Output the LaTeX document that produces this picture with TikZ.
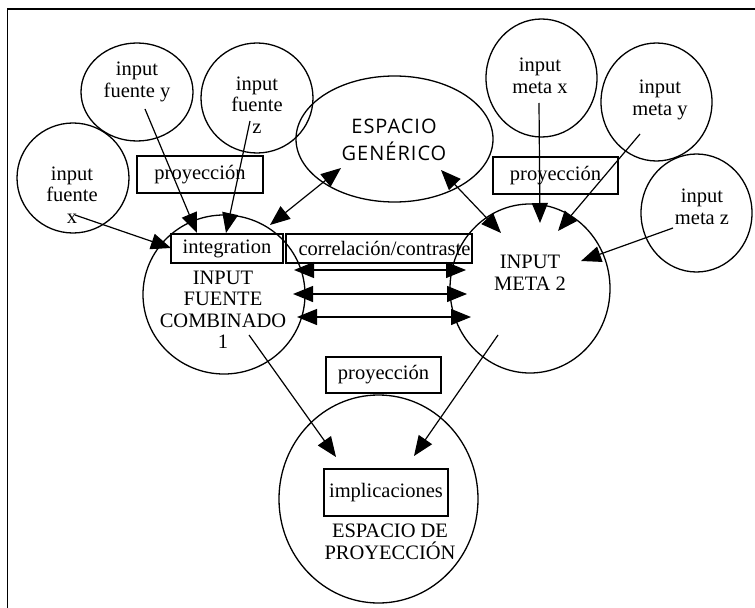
\documentclass[tikz,border=0pt]{standalone}
\usepackage{fontspec}
\setmainfont{Liberation Serif}
\newfontfamily\gensans[LetterSpace=5]{Open Sans}
\usetikzlibrary{arrows.meta,shapes.geometric}
\tikzset{
  circ/.style={draw, ellipse, line width=1.3bp, inner sep=0pt},
  lbl/.style={align=center, inner sep=0pt, font=\fontsize{20.5bp}{21.5bp}\selectfont},
  boxn/.style={draw, rectangle, line width=1.3bp, inner sep=0pt, font=\fontsize{20.5bp}{21.5bp}\selectfont},
  tipa/.style={-{Triangle[length=20bp,width=16bp]}, line width=1.2bp},
  dtipa/.style={{Triangle[length=20bp,width=16bp]}-{Triangle[length=20bp,width=16bp]}, line width=1.2bp}
}
\begin{document}
\begin{tikzpicture}[x=1bp,y=-1bp]
\useasboundingbox (0,0) rectangle (755,608);
\draw[line width=1.5bp] (7.5,608) -- (7.5,9) -- (755,9);

% circles / ellipses
\node[circ, minimum width=112bp, minimum height=98bp] (fy) at (137,92) {};
\node[circ, minimum width=112bp, minimum height=110bp] (fz) at (257,98) {};
\node[circ, minimum width=112bp, minimum height=110bp] (fx) at (73,178) {};
\node[circ, minimum width=197bp, minimum height=126bp] (gen) at (394.5,139) {};
\node[circ, minimum width=111bp, minimum height=118bp] (mx) at (541.5,78) {};
\node[circ, minimum width=111bp, minimum height=118bp] (my) at (656.5,102) {};
\node[circ, minimum width=111bp, minimum height=118bp] (mz) at (696.5,213) {};
\node[circ, minimum width=162bp, minimum height=159bp] (f1) at (224,294.5) {};
\node[circ, minimum width=160bp, minimum height=169bp] (m2) at (530,288.5) {};
\node[circ, minimum width=199bp, minimum height=208bp] (proy) at (378.5,499) {};

% texts
\node[lbl] (tfy) at (137,82) {input\\fuente y};
\node[lbl] (tfz) at (257,105) {input\\fuente\\z};
\node[lbl] (tfx) at (72,195) {input\\fuente\\x};
\node[lbl, font=\gensans\fontsize{20bp}{27bp}\selectfont] (tgen) at (394,140) {ESPACIO\\GENÉRICO};
\node[lbl] (tmx) at (540,76) {input\\meta x};
\node[lbl] (tmy) at (660,100) {input\\meta y};
\node[lbl] (tmz) at (702,207) {input\\meta z};
\node[lbl] (tm2) at (530,273) {INPUT\\META 2};
\node[lbl] (tf1) at (223,310) {INPUT\\FUENTE\\COMBINADO\\1};
\node[lbl] (tproy) at (390,542) {ESPACIO DE\\PROYECCIÓN};

% boxes
\node[boxn, minimum width=126bp, minimum height=37bp] (p1) at (200,174.5) {proyección};
\node[boxn, minimum width=125bp, minimum height=37bp] (p2) at (555.5,175.5) {proyección};
\node[boxn, minimum width=115bp, minimum height=36bp] (p3) at (383.5,375) {proyección};
\node[boxn, minimum width=112bp, minimum height=29bp] (int) at (227,248.5) {integration};
\node[boxn, minimum width=186bp, minimum height=29bp] (cor) at (379,248.5) {};
\node[lbl] (tcor) at (384.5,248) {correlación/contraste};
\node[boxn, minimum width=124bp, minimum height=47bp] (imp) at (386,492.5) {implicaciones};

% connector end points
\coordinate (fyS) at (145,109);  \coordinate (fyE) at (197,233);
\coordinate (fzS) at (250,121);  \coordinate (fzE) at (226,233);
\coordinate (fxS) at (75,215);   \coordinate (fxE) at (171,248);
\coordinate (g1A) at (270,225);  \coordinate (g1B) at (341,168);
\coordinate (g2A) at (441,170);  \coordinate (g2B) at (501,233);
\coordinate (mxS) at (539,103);  \coordinate (mxE) at (540,223);
\coordinate (myS) at (640,134);  \coordinate (myE) at (558,231);
\coordinate (mzS) at (673,228);  \coordinate (mzE) at (581,261);
\coordinate (h1A) at (294,270);  \coordinate (h1B) at (466,270);
\coordinate (h2A) at (293,294);  \coordinate (h2B) at (467,294);
\coordinate (h3A) at (297,317);  \coordinate (h3B) at (471,317);
\coordinate (f1S) at (249,335);  \coordinate (f1E) at (336,457);
\coordinate (m2S) at (498,335);  \coordinate (m2E) at (414,456);

% connectors
\draw[tipa] (fyS) -- (fyE);
\draw[tipa] (fzS) -- (fzE);
\draw[tipa] (fxS) -- (fxE);
\draw[dtipa] (g1A) -- (g1B);
\draw[dtipa] (g2A) -- (g2B);
\draw[tipa] (mxS) -- (mxE);
\draw[tipa] (myS) -- (myE);
\draw[tipa] (mzS) -- (mzE);
\draw[dtipa] (h1A) -- (h1B);
\draw[dtipa] (h2A) -- (h2B);
\draw[dtipa] (h3A) -- (h3B);
\draw[tipa] (f1S) -- (f1E);
\draw[tipa] (m2S) -- (m2E);
\end{tikzpicture}
\end{document}
